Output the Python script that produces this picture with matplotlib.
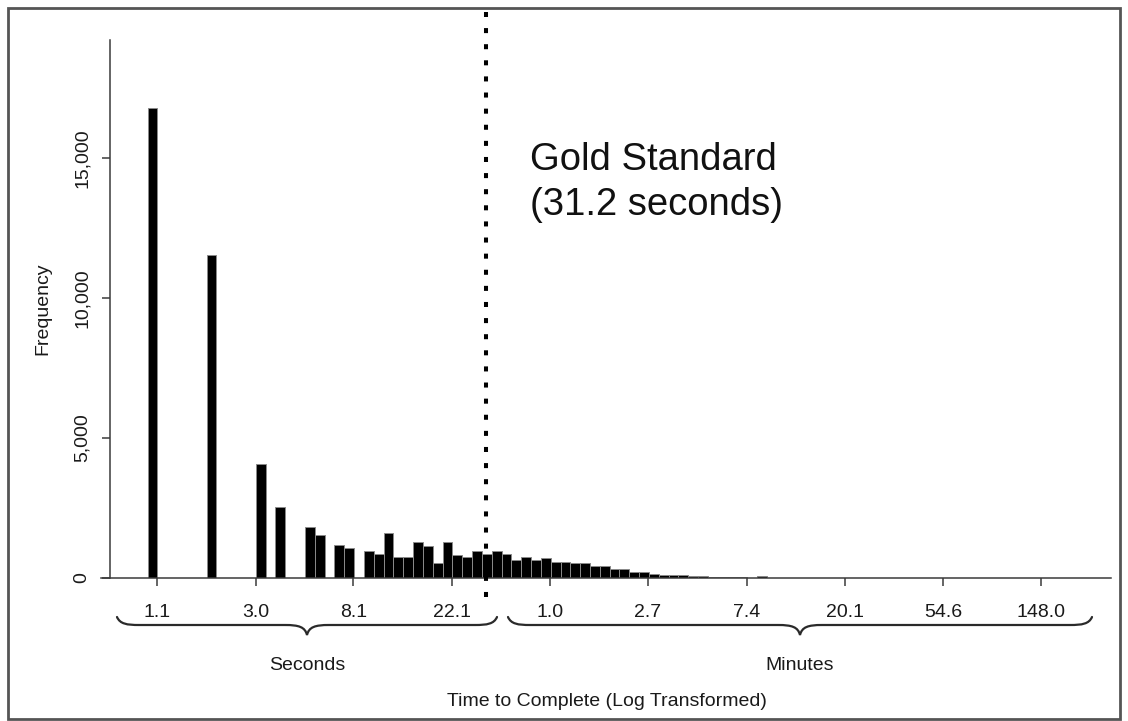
import numpy as np
import matplotlib.pyplot as plt
from matplotlib.path import Path
from matplotlib.patches import PathPatch, Rectangle

plt.rcParams['font.family'] = ['Liberation Sans', 'DejaVu Sans']

# histogram of log(seconds), bins of width 0.1 starting at 0.0
bin_width = 0.1
counts = [16790, 0, 0, 0, 0, 0, 11540, 0, 0, 0,
          0, 4070, 0, 2540, 0, 0, 1820, 1540, 0, 1170,
          1060, 0, 980, 845, 1610, 750, 750, 1290, 1145, 525,
          1290, 820, 760, 975, 845, 975, 855, 645, 740, 645,
          715, 585, 585, 535, 535, 420, 420, 320, 320, 215,
          215, 145, 95, 95, 95, 60, 60, 36, 36, 36,
          36, 0, 60]

sec_labels = ["1.1", "3.0", "8.1", "22.1"]
sec_values = [1.1, 3.0, 8.1, 22.1]
min_labels = ["1.0", "2.7", "7.4", "20.1", "54.6", "148.0"]
min_values = [1.0, 2.7, 7.4, 20.1, 54.6, 148.0]
y_ticks = [0, 5000, 10000, 15000]
y_labels = ["0", "5,000", "10,000", "15,000"]
gold_seconds = 31.2

W, H = 1128, 721
fig = plt.figure(figsize=(W / 100, H / 100), dpi=100)

x0, x1 = -0.55, 9.9
y_top = 19200
ax = fig.add_axes([93.6 / W, 143 / H, 1027.2 / W, 537.6 / H])
ax.set_xlim(x0, x1)
ax.set_ylim(0, y_top)

counts = np.array(counts)
lefts = np.arange(len(counts)) * bin_width
keep = counts > 0
ax.bar(lefts[keep], counts[keep], width=bin_width, align='edge',
       color='black', edgecolor='#8a8a8a', linewidth=0.7, zorder=2)

# gold standard line
ax.axvline(np.log(gold_seconds), ymin=-0.035, ymax=1.053, color='black',
           lw=2.9, linestyle=(0, (1.25, 2.75)), clip_on=False, zorder=3)

# axes in R style
tick_pos = [np.log(v) for v in sec_values] + [np.log(v * 60) for v in min_values]
ax.set_xticks(tick_pos)
ax.set_xticklabels(sec_labels + min_labels)
ax.set_yticks(y_ticks)
ax.set_yticklabels(y_labels)
for s in ['top', 'right']:
    ax.spines[s].set_visible(False)
ax.spines['left'].set_position(('data', -0.383))
ax.spines['bottom'].set_bounds(-0.47, 9.80)
for s in ['left', 'bottom']:
    ax.spines[s].set_color('#3a3a3a')
    ax.spines[s].set_linewidth(1.1)
ax.tick_params(axis='both', direction='out', length=6, width=1.1,
               color='#3a3a3a', labelsize=14, labelcolor='#1a1a1a')
ax.tick_params(axis='x', pad=13)
ax.tick_params(axis='y', pad=8, labelrotation=90)
for lab in ax.get_yticklabels():
    lab.set_va('center')

ax.set_xlabel("Time to Complete (Log Transformed)", fontsize=14, color='#1a1a1a')
ax.xaxis.label.set_va('baseline')
ax.xaxis.set_label_coords(0.50, -128 / 537.6)
ax.set_ylabel("Frequency", fontsize=14, color='#1a1a1a')
ax.yaxis.label.set_va('baseline')
ax.yaxis.set_label_coords((47 - 93.6) / 1027.2, 0.5)

# overlay in pixel coordinates for braces, group labels and frame
ov = fig.add_axes([0, 0, 1, 1], facecolor='none')
ov.set_xlim(0, W)
ov.set_ylim(H, 0)
ov.axis('off')


def brace(xa, xb, xc, y_tip=617, y_flat=625, y_mid=635):
    q = 22
    verts = [(xa, y_tip),
             (xa + 3, y_flat - 1), (xa + 10, y_flat), (xa + q, y_flat),
             (xc - q, y_flat),
             (xc - 8, y_flat), (xc - 2, y_flat + 2), (xc, y_mid),
             (xc + 2, y_flat + 2), (xc + 8, y_flat), (xc + q, y_flat),
             (xb - q, y_flat),
             (xb - 10, y_flat), (xb - 3, y_flat - 1), (xb, y_tip)]
    codes = [Path.MOVETO,
             Path.CURVE4, Path.CURVE4, Path.CURVE4,
             Path.LINETO,
             Path.CURVE4, Path.CURVE4, Path.CURVE4,
             Path.CURVE4, Path.CURVE4, Path.CURVE4,
             Path.LINETO,
             Path.CURVE4, Path.CURVE4, Path.CURVE4]
    ov.add_patch(PathPatch(Path(verts, codes), fill=False, lw=1.6,
                           edgecolor='#2a2a2a', capstyle='round'))


brace(117, 497, 307)
brace(508, 1092, 800)
ov.text(307, 670, "Seconds", fontsize=14, ha='center', va='baseline', color='#1a1a1a')
ov.text(800, 670, "Minutes", fontsize=14, ha='center', va='baseline', color='#1a1a1a')

ov.text(530, 170, "Gold Standard", fontsize=27.5, ha='left', va='baseline', color='#111111')
ov.text(530, 215, "(31.2 seconds)", fontsize=27.5, ha='left', va='baseline', color='#111111')

ov.add_patch(Rectangle((8, 8), W - 16, H - 10, fill=False, lw=2, edgecolor='#555555'))

fig.savefig("out.png", dpi=100, facecolor='white')
